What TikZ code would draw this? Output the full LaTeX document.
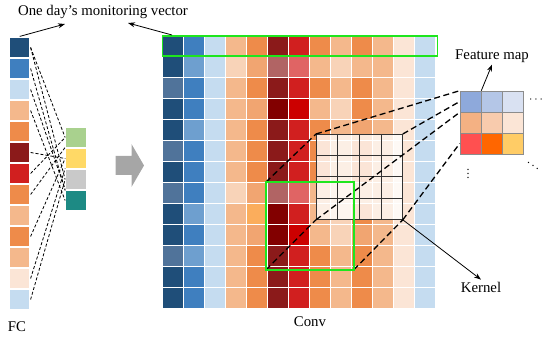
\documentclass[tikz,border=0pt]{standalone}
\usepackage{fontspec}
\setmainfont{Liberation Serif}
\usepackage{xcolor}
\usepackage{tikz}
\usetikzlibrary{arrows.meta,positioning,calc}

% cell colours
\definecolor{navy}{HTML}{1F4E79}
\definecolor{navym}{HTML}{50739A}
\definecolor{steel}{HTML}{3F7FBF}
\definecolor{steelm}{HTML}{6E9FCF}
\definecolor{sky}{HTML}{C5DCF0}
\definecolor{apricot}{HTML}{F8D3B8}
\definecolor{peach}{HTML}{F4B88C}
\definecolor{tang}{HTML}{EE8B4A}
\definecolor{tangm}{HTML}{F1A571}
\definecolor{tangy}{HTML}{FBAD5C}
\definecolor{wine}{HTML}{8B1A1A}
\definecolor{winem}{HTML}{B16464}
\definecolor{wined}{HTML}{820000}
\definecolor{scarlet}{HTML}{D11F1F}
\definecolor{scarletm}{HTML}{E06464}
\definecolor{scarletd}{HTML}{CC0000}
\definecolor{cream}{HTML}{FBE5D6}
\definecolor{winbright}{HTML}{1EE61E}
\definecolor{arrowgray}{HTML}{A6A6A6}
\definecolor{outA}{HTML}{A9D18E}
\definecolor{outB}{HTML}{FFD966}
\definecolor{outC}{HTML}{C9C9C9}
\definecolor{outD}{HTML}{1D8A84}
\definecolor{fmA}{HTML}{8EA9DB}
\definecolor{fmB}{HTML}{B4C6E7}
\definecolor{fmC}{HTML}{D9E1F2}
\definecolor{fmD}{HTML}{F4B183}
\definecolor{fmE}{HTML}{F8CBAD}
\definecolor{fmF}{HTML}{FBE5D6}
\definecolor{fmG}{HTML}{FF5050}
\definecolor{fmH}{HTML}{FF6600}
\definecolor{fmI}{HTML}{FFCC66}

\begin{document}
\begin{tikzpicture}[x=1pt, y=-1pt,
  lbl/.style={font=\fontsize{14.8}{17}\selectfont, inner sep=2pt},
  gridcell/.style={draw=white, line width=1.2pt},
  fccell/.style={draw=white, line width=1.2pt, minimum width=20.5pt, minimum height=21pt, inner sep=0pt},
  fmcell/.style={draw=black!45, line width=0.6pt, minimum size=21pt, inner sep=0pt},
  greenbox/.style={draw=winbright, line width=1.8pt, inner sep=0pt, anchor=north west},
  fcline/.style={dash pattern=on 3pt off 2pt, line width=0.8pt},
  viewline/.style={dash pattern=on 6pt off 3.5pt, line width=1.3pt},
  lblarrow/.style={-{Stealth[length=7pt,width=5pt]}, line width=0.8pt}]
\useasboundingbox (0,0) rectangle (550,342);
% Conv input: one row per day
\foreach \cl [count=\r from 0] in {
  {navy,steel,sky,peach,tang,wine,scarlet,tang,peach,tang,peach,cream,sky},
  {navy,steelm,sky,apricot,tangm,winem,scarletm,peach,apricot,peach,peach,cream,sky},
  {navym,steel,sky,peach,tang,wine,scarlet,tang,peach,tang,peach,cream,sky},
  {navy,steel,sky,peach,tangm,wined,scarletd,peach,apricot,tang,peach,cream,sky},
  {navy,steelm,sky,peach,tang,wine,scarlet,tang,peach,tangm,peach,cream,sky},
  {navym,steel,sky,peach,tang,wine,scarlet,tang,peach,tang,peach,cream,sky},
  {navy,steel,sky,peach,tang,wine,scarlet,tang,peach,tang,peach,cream,sky},
  {navym,steel,sky,apricot,tangm,winem,scarletm,peach,apricot,peach,peach,cream,sky},
  {navy,steelm,sky,peach,tangy,wined,scarlet,peach,apricot,tang,peach,cream,sky},
  {navy,steel,sky,peach,tangm,wined,scarletd,peach,apricot,tangm,peach,cream,sky},
  {navym,steelm,sky,peach,tang,wine,scarlet,tang,peach,tang,peach,cream,sky},
  {navy,steel,sky,peach,tang,wine,scarlet,tang,peach,tang,peach,cream,sky},
  {navy,steel,sky,peach,tang,wine,scarlet,tang,peach,tang,peach,cream,sky}}
  \foreach \c [count=\k from 0] in \cl
    \path[gridcell, fill=\c] (162.5+21*\k, 35.5+21*\r) rectangle ++(21,21);
% FC input column
\foreach \c [count=\i] in {navy,steel,sky,peach,tang,wine,scarlet,tang,peach,tang,peach,cream,sky}
  \node[fccell, fill=\c] (fc\i) at (19.75, 26.5+21*\i) {};
% FC output column
\foreach \c [count=\i] in {outA,outB,outC,outD}
  \node[fccell, fill=\c] (out\i) at (76, 116.5+21*\i) {};
\foreach \a/\b in {1/out1.west, 1/out3.west, 2/out3.south west, 3/out4.north west, 4/out4.west,
  6/out2.west, 7/out1.west, 8/out2.north west, 10/out2.west, 12/out3.north west, 13/out3.west}
  \draw[fcline] (fc\a.east) -- (\b);
% big arrow
\fill[arrowgray] (115.5,156) -- (131.5,156) -- (131.5,144) -- (144,165.5)
  -- (131.5,187) -- (131.5,175) -- (115.5,175) -- cycle;
% windows and kernel
\node[greenbox, minimum width=275pt, minimum height=20.5pt] (rowwin) at (161.5,35) {};
\node[greenbox, draw=none, minimum size=86pt] (win) at (266,182) {};
\node[anchor=north west, minimum width=86pt, minimum height=85pt, inner sep=0pt,
  fill=white, fill opacity=0.78, draw=black!80, line width=0.8pt] (kernel) at (316,134) {};
\foreach \t in {0.25,0.5,0.75} {
  \draw[black!80, line width=0.8pt] ($(kernel.north west)!\t!(kernel.north east)$) -- ($(kernel.south west)!\t!(kernel.south east)$);
  \draw[black!80, line width=0.8pt] ($(kernel.north west)!\t!(kernel.south west)$) -- ($(kernel.north east)!\t!(kernel.south east)$);
}
\draw[viewline] (win.north west) -- (kernel.north west);
\draw[viewline] (win.south west) -- (kernel.south west);
\draw[viewline] (win.south east) -- (kernel.south east);
% feature map
\foreach \cl [count=\r] in {{fmA,fmB,fmC},{fmD,fmE,fmF},{fmG,fmH,fmI}}
  \foreach \c [count=\k] in \cl
    \node[fmcell, fill=\c] (fm\r\k) at (449.5+21*\k, 80.5+21*\r) {};
\draw[viewline] (kernel.north west) -- (fm11.north west);
\draw[viewline] (kernel.north east) -- (fm11.west);
\draw[viewline] (kernel.south west) -- (fm11.south west);
\draw[viewline] (kernel.south east) -- (fm31.west);
\draw[winbright, line width=1.8pt] (win.north west) rectangle (win.south east);
% labels
\node[lbl] (title) at (103,12) {One day's monitoring vector};
\coordinate (tipfc) at (65,24);
\coordinate (tipconv) at (128,23);
\draw[lblarrow] (fc1.north) -- (tipfc);
\draw[lblarrow] ([xshift=10.5pt]rowwin.north west) -- (tipconv);
\node[lbl] (fclabel) at (17,327) {FC};
\node[lbl] (convlabel) at (310,322) {Conv};
\node[lbl] (fmlabel) at (492,56) {Feature map};
\draw[lblarrow] (fm11.north east) -- (fmlabel.south);
\node[lbl] (klabel) at (481,287) {Kernel};
\draw[lblarrow] (kernel.south east) -- (klabel.north);
\node[lbl, font=\fontsize{12}{14}\selectfont] (hdots) at (536,100) {$\cdots$};
\node[lbl, font=\fontsize{12}{14}\selectfont] (vdots) at (468,171) {$\vdots$};
\node[lbl, font=\fontsize{12}{14}\selectfont] (ddots) at (533,163) {$\ddots$};
\end{tikzpicture}
\end{document}
